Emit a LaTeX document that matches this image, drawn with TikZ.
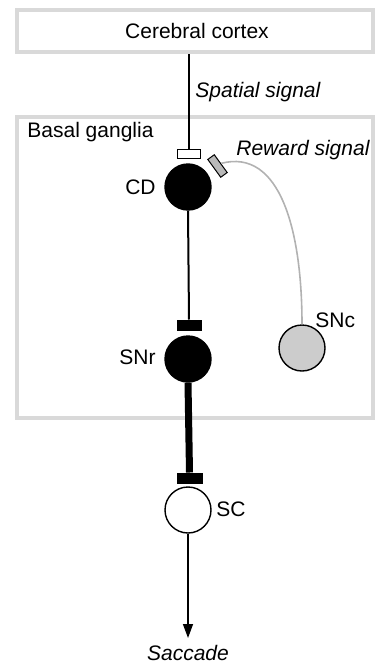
\documentclass[tikz,border=0pt]{standalone}
\usepackage{fontspec}
\setmainfont{Liberation Sans}
\usetikzlibrary{arrows.meta}

\begin{document}
\begin{tikzpicture}[x=0.5pt,y=-0.5pt,>={Triangle[length=7pt,width=5pt]},
  font=\fontsize{10.5}{12}\selectfont,
  region/.style={draw=gray!30,line width=2pt,minimum width=178pt,inner sep=0pt},
  cell/.style={circle,draw,line width=0.7pt,minimum size=23pt,inner sep=0pt},
  synbar/.style={rectangle,draw,line width=0.5pt,inner sep=0pt},
  tag/.style={inner sep=0pt}]
  \useasboundingbox (0,0) rectangle (375,664);
  % regions
  \node[region,minimum height=21pt] (cortex) at (195,31) {};
  \node[tag] (cortexlab) at (197,31) {Cerebral cortex};
  \node[region,minimum height=150.5pt] (basal) at (195,267.5) {};
  \node[tag,anchor=west] (basallab) at (27,132) {Basal ganglia};
  % cells and terminals
  \node[synbar,fill=white,minimum width=11.5pt,minimum height=4.5pt] (spat) at (188.5,153.5) {};
  \node[synbar,fill=gray!55,minimum width=11pt,minimum height=4pt,rotate=-54] (rew) at (217.5,166) {};
  \node[cell,fill=black] (cd) at (188,187) {};
  \node[synbar,fill=black,minimum width=12pt,minimum height=5pt] (inhA) at (189,325) {};
  \node[cell,fill=black] (snr) at (188,359) {};
  \node[cell,fill=gray!40] (snc) at (302,348) {};
  \node[synbar,fill=black,minimum width=12.5pt,minimum height=5pt] (inhB) at (189.5,478) {};
  \node[cell,fill=white] (sc) at (188,510) {};
  \coordinate (out) at (188,638);
  % labels
  \node[tag,anchor=west,font=\fontsize{10.5}{12}\selectfont\itshape] (spatlab) at (195,92) {Spatial signal};
  \node[tag,anchor=west,font=\fontsize{10.5}{12}\selectfont\itshape] (rewlab) at (236,150) {Reward signal};
  \node[tag,anchor=east] (cdlab) at (156,187) {CD};
  \node[tag,anchor=east] (snrlab) at (156,357) {SNr};
  \node[tag,anchor=west] (snclab) at (315,320) {SNc};
  \node[tag,anchor=west] (sclab) at (216,509) {SC};
  \node[tag,font=\fontsize{10.5}{12}\selectfont\itshape] (saclab) at (188,653) {Saccade};
  % connections
  \draw[line width=1pt] (cortex.south -| spat) -- (spat.north);
  \draw[line width=1pt] (cd.south) -- (inhA.north);
  \draw[line width=3.5pt] (snr.south) -- (inhB.north);
  \draw[->,line width=0.75pt] (sc.south) -- (out);
  \draw[gray!60,line width=0.8pt] (rew.north) .. controls (280,148) and (302,230) .. (snc.north);
\end{tikzpicture}
\end{document}
